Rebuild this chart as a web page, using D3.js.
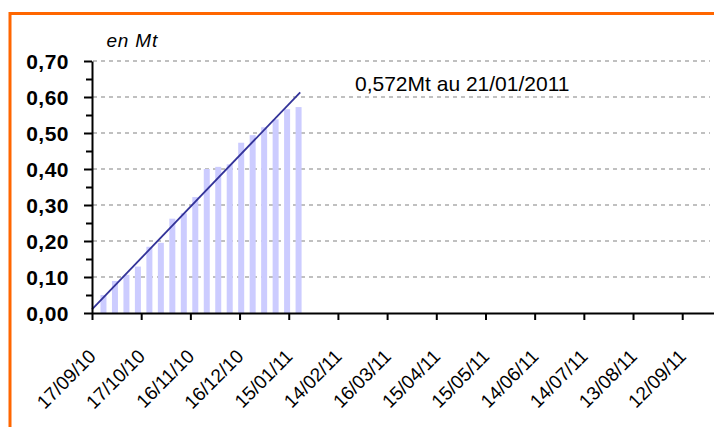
<!DOCTYPE html>
<html>
<head>
<meta charset="utf-8">
<script src="https://cdn.jsdelivr.net/npm/d3@7"></script>
<style>
  html, body { margin: 0; padding: 0; background: #ffffff; }
  svg { display: block; }
  text { font-family: "Liberation Sans", Arial, sans-serif; }
</style>
</head>
<body>
<svg id="chart" width="714" height="427"></svg>
<script>
// ---- data ----
const barDates = ["2010-09-24","2010-10-01","2010-10-08","2010-10-15","2010-10-22","2010-10-29",
                  "2010-11-05","2010-11-12","2010-11-19","2010-11-26","2010-12-03","2010-12-10",
                  "2010-12-17","2010-12-24","2010-12-31","2011-01-07","2011-01-14","2011-01-21"];
const barValues = [0.050, 0.089, 0.106, 0.129, 0.184, 0.195, 0.262, 0.277, 0.322, 0.400, 0.406, 0.413,
                   0.473, 0.494, 0.516, 0.538, 0.566, 0.572];
const trendDates = ["2010-09-17", "2011-01-22"];
const trendValues = [0.010, 0.613];
const xTickDates = ["2010-09-17","2010-10-17","2010-11-16","2010-12-16","2011-01-15","2011-02-14",
                    "2011-03-16","2011-04-15","2011-05-15","2011-06-14","2011-07-14","2011-08-13","2011-09-12"];
const xDomain = ["2010-09-17", "2011-10-02"];
const yTicks = [0, 0.1, 0.2, 0.3, 0.4, 0.5, 0.6, 0.7];
const yMinorTicks = [0.05, 0.15, 0.25, 0.35, 0.45, 0.55, 0.65];
const unitLabel = "en Mt";
const annotation = "0,572Mt au 21/01/2011";

// ---- layout ----
const parse = d3.utcParse("%Y-%m-%d");
const fmtDate = d3.utcFormat("%d/%m/%y");
const fmtY = v => d3.format(".2f")(v).replace(".", ",");

const plotLeft = 92, plotRight = 715, plotTop = 61, plotBottom = 313, gridEnd = 710;

const svg = d3.select("#chart");

// orange frame
svg.append("rect")
  .attr("x", 10).attr("y", 13.5)
  .attr("width", 720).attr("height", 430)
  .attr("fill", "#ffffff")
  .attr("stroke", "#ff6600")
  .attr("stroke-width", 3);

const x = d3.scaleUtc().domain(xDomain.map(parse)).range([plotLeft, plotRight]);
const y = d3.scaleLinear().domain([0, 0.7]).range([plotBottom, plotTop]);

// gridlines
svg.append("g").selectAll("line")
  .data(yTicks.filter(v => v > 0))
  .join("line")
  .attr("x1", plotLeft + 1).attr("x2", gridEnd)
  .attr("y1", d => y(d)).attr("y2", d => y(d))
  .attr("stroke", "#c0c0c0")
  .attr("stroke-width", 2)
  .attr("stroke-dasharray", "4,4");

// bars
const bw = 6;
svg.append("g").selectAll("rect")
  .data(barDates.map((d, i) => ({ date: parse(d), v: barValues[i] })))
  .join("rect")
  .attr("x", d => x(d.date) - bw / 2)
  .attr("width", bw)
  .attr("y", d => y(d.v))
  .attr("height", d => y(0) - y(d.v))
  .attr("fill", "#ccccff");

// trend line
const line = d3.line().x(d => x(d.date)).y(d => y(d.v));
svg.append("path")
  .datum(trendDates.map((d, i) => ({ date: parse(d), v: trendValues[i] })))
  .attr("d", line)
  .attr("fill", "none")
  .attr("stroke", "#333399")
  .attr("stroke-width", 1.8);

// y axis minor ticks
const yMinor = svg.append("g").attr("transform", `translate(${plotLeft},0)`)
  .call(d3.axisLeft(y).tickValues(yMinorTicks).tickSize(6).tickFormat(""));
yMinor.select(".domain").remove();
yMinor.selectAll("line").attr("stroke", "#000").attr("stroke-width", 2);

// y axis
const yAxis = svg.append("g").attr("transform", `translate(${plotLeft},0)`)
  .call(d3.axisLeft(y).tickValues(yTicks).tickSize(8).tickSizeOuter(0).tickPadding(15).tickFormat(fmtY));
yAxis.select(".domain").attr("stroke", "#000").attr("stroke-width", 2);
yAxis.selectAll("line").attr("stroke", "#000").attr("stroke-width", 2);
yAxis.selectAll("text")
  .attr("fill", "#000")
  .style("font-size", "21px")
  .style("font-weight", "bold")
  .style("letter-spacing", "0.5px")
  .attr("dy", "0.35em");

// x axis
const xAxis = svg.append("g").attr("transform", `translate(0,${plotBottom})`)
  .call(d3.axisBottom(x).tickValues(xTickDates.map(parse)).tickSize(7).tickSizeOuter(0).tickFormat(fmtDate));
xAxis.select(".domain").attr("stroke", "#000").attr("stroke-width", 2);
xAxis.selectAll("line").attr("stroke", "#000").attr("stroke-width", 2);
xAxis.selectAll("text")
  .attr("fill", "#000")
  .attr("x", 0).attr("y", 0).attr("dy", 0)
  .attr("text-anchor", "end")
  .attr("transform", "translate(4.6,44.6) rotate(-45)")
  .style("font-size", "19px");

// unit label
svg.append("text")
  .attr("x", 106.5).attr("y", 46.5)
  .style("font-size", "19px")
  .style("font-style", "italic")
  .style("letter-spacing", "0.8px")
  .attr("fill", "#000")
  .text(unitLabel);

// annotation
svg.append("text")
  .attr("x", 355).attr("y", 90.7)
  .style("font-size", "21px")
  .attr("fill", "#000")
  .text(annotation);
</script>
</body>
</html>
